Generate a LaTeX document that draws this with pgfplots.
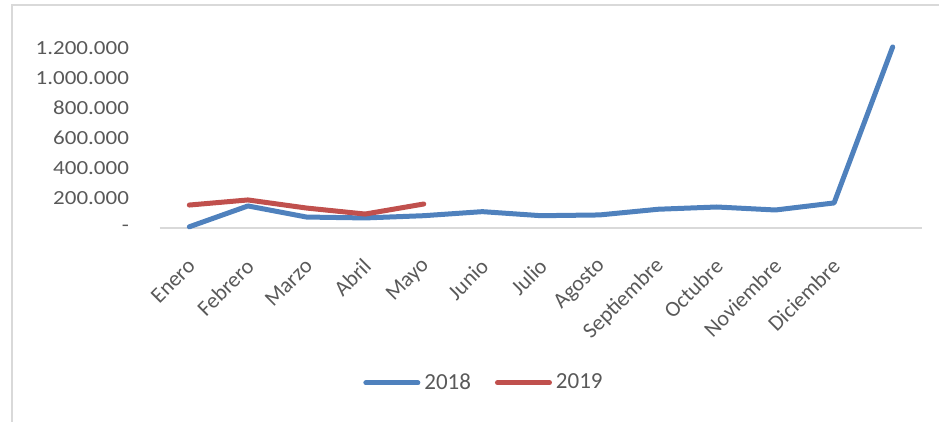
\documentclass[border=0pt]{standalone}
\usepackage{fontspec}
\setmainfont{Carlito}
\newfontfamily\tickfont{Carlito}[FakeStretch=1.15]
\usepackage{pgfplots}
\pgfplotsset{compat=1.18}

\definecolor{xlblue}{RGB}{79,129,189}
\definecolor{xlred}{RGB}{192,80,77}
\definecolor{txtgray}{RGB}{89,89,89}
\definecolor{linegray}{RGB}{217,217,217}

% 1 px of the reference = 0.5pt
\begin{document}
\begin{tikzpicture}
\useasboundingbox (-80pt,-97pt) rectangle (389.5pt,114pt);
\draw[linegray, line width=0.75pt] (-74pt,-97pt) -- (-74pt,111.5pt) -- (389.5pt,111.5pt);
\begin{axis}[
  at={(0,0)}, anchor=south west,
  scale only axis, width=381pt, height=90pt,
  xmin=-0.5, xmax=12.5, ymin=0, ymax=1200000,
  clip=false, scaled y ticks=false,
  axis x line*=bottom, axis y line*=left,
  x axis line style={draw=linegray, line width=0.6pt, -},
  y axis line style={draw=none},
  major tick length=0pt,
  xtick={0,...,11},
  xticklabels={Enero,Febrero,Marzo,Abril,Mayo,Junio,Julio,Agosto,Septiembre,Octubre,Noviembre,Diciembre},
  xticklabel style={rotate=45, anchor=east, font=\fontsize{11}{13}\selectfont, text=txtgray, yshift=-13pt, xshift=-8pt},
  ytick={0,200000,400000,600000,800000,1000000,1200000},
  yticklabels={-,200.000,400.000,600.000,800.000,1.000.000,1.200.000},
  yticklabel style={anchor=east, font=\tickfont\fontsize{10}{12}\selectfont, text=txtgray, xshift=-12pt},
  legend columns=2,
  legend style={at={(0.4265,-0.86)}, anchor=center, draw=none, fill=none,
    font=\fontsize{11.5}{13}\selectfont, text=txtgray,
    /tikz/every even column/.append style={column sep=10pt}},
  legend image code/.code={\draw[#1, line cap=round] (0pt,0pt) -- (26pt,0pt);},
]
\addplot[xlblue, line width=2.5pt, line cap=round, line join=round] coordinates {
  (0,8000) (1,147000) (2,73000) (3,67000) (4,82000) (5,109000) (6,82000)
  (7,87000) (8,125000) (9,140000) (10,120000) (11,167000) (12,1207000)};
\addlegendentry{2018}
\addplot[xlred, line width=2.5pt, line cap=round, line join=round] coordinates {
  (0,153000) (1,187000) (2,133000) (3,93000) (4,160000)};
\addlegendentry{2019}
\end{axis}
\end{tikzpicture}
\end{document}
